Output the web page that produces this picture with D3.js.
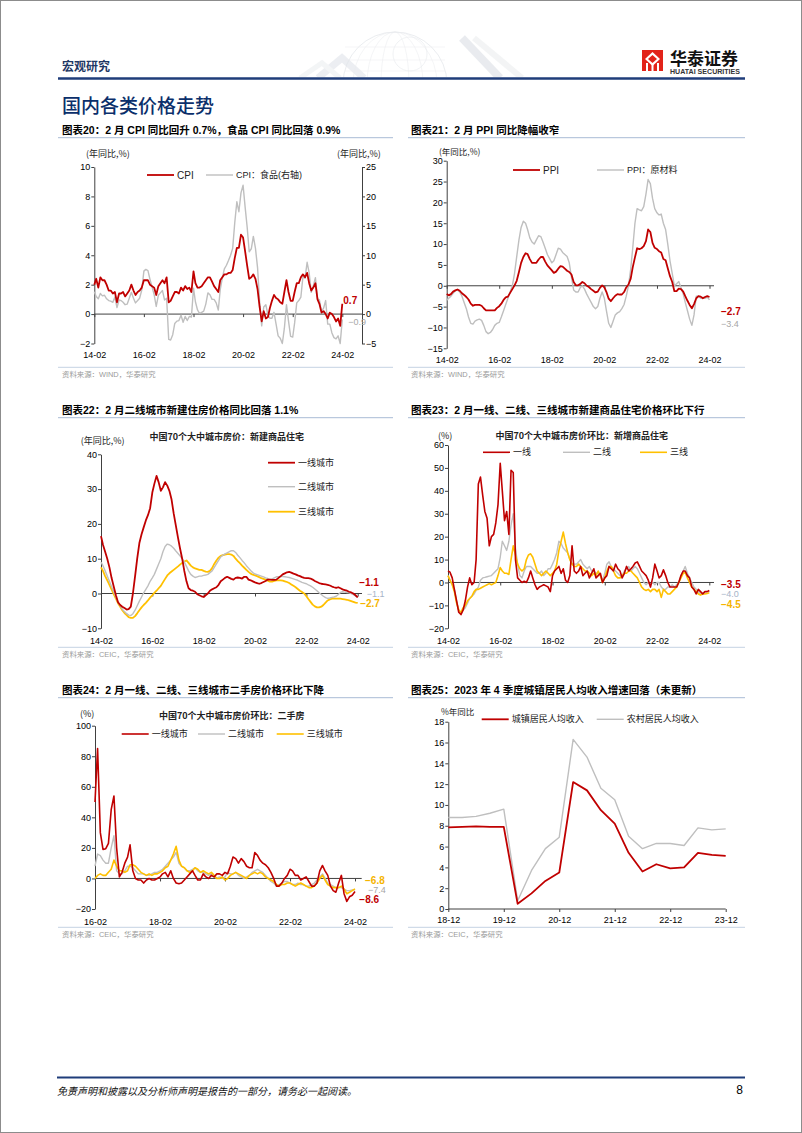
<!DOCTYPE html>
<html><head><meta charset="utf-8">
<script src="https://cdn.jsdelivr.net/npm/d3@7"></script>
<style>html,body{margin:0;padding:0;background:#fff;}svg{display:block;}</style>
</head><body>
<svg id="page" width="802" height="1133"></svg>
<script>
// ---------------- DATA ----------------
const monthTickLabels = ["14-02","16-02","18-02","20-02","22-02","24-02"];
const usedTickLabels = ["16-02","18-02","20-02","22-02","24-02"];
const incomeTickLabels = ["18-12","19-12","20-12","21-12","22-12","23-12"];

const cpiLeftTicks = [-2,0,2,4,6,8,10];
const cpiRightTicks = [-5,0,5,10,15,20,25];
const ppiTicks = [-15,-10,-5,0,5,10,15,20,25,30];
const newYoYTicks = [-10,0,10,20,30,40];
const newMoMTicks = [-20,-10,0,10,20,30,40,50,60];
const usedTicks = [-20,0,20,40,60,80,100];
const incomeTicks = [0,2,4,6,8,10,12,14,16,18];

// CPI YoY, 2014-02 .. 2024-02
const cpi = [
 2.0,2.4,1.8,2.5,2.3,2.3,2.0,1.6,1.6,1.4,1.5,
 0.8,1.4,1.4,1.5,1.2,1.4,1.6,2.0,1.6,1.3,1.5,1.6,
 1.8,2.3,2.3,2.3,2.0,1.9,1.8,1.3,1.9,2.1,2.3,2.1,
 2.5,0.8,0.9,1.2,1.5,1.5,1.4,1.8,1.6,1.9,1.7,1.8,
 1.5,2.9,2.1,1.8,1.8,1.9,2.1,2.3,2.5,2.5,2.2,1.9,
 1.7,1.5,2.3,2.5,2.7,2.7,2.8,2.8,3.0,3.8,4.5,4.5,
 5.4,5.2,4.3,3.3,2.4,2.5,2.7,2.4,1.7,0.5,-0.5,0.2,
 -0.3,-0.2,0.4,0.9,1.3,1.1,1.0,0.8,0.7,1.5,2.3,1.5,
 0.9,0.9,1.5,2.1,2.1,2.5,2.7,2.5,2.8,2.1,1.6,1.8,
 2.1,1.0,0.7,0.1,0.2,0.0,-0.3,0.1,0.0,-0.2,-0.5,-0.3,
 -0.8,0.7];
// CPI food YoY (right axis)
const cpiFood = [
 3.8,3.0,2.6,3.5,3.1,3.2,2.6,2.3,2.2,2.0,2.9,
 1.1,2.4,2.3,2.0,1.6,1.7,2.7,3.7,2.7,1.9,2.3,2.7,
 4.1,7.3,7.6,7.4,5.9,4.6,3.3,1.3,3.2,3.6,4.0,2.4,
 2.7,-4.3,-4.4,-3.5,-1.6,-1.2,-1.1,-0.2,-1.4,-0.4,-1.1,-0.4,
 -0.5,4.4,2.1,0.7,0.1,0.3,0.5,1.7,3.6,3.3,2.5,2.5,
 1.9,0.7,4.1,6.1,7.7,8.3,9.1,10.0,11.2,15.5,19.1,17.4,
 20.6,21.9,18.3,14.8,10.6,11.1,13.2,11.2,7.9,2.2,-2.0,1.2,
 1.6,-0.2,-0.7,-0.7,0.3,-1.7,-3.7,-4.1,-5.0,-2.4,1.6,-1.2,
 -3.8,-3.9,-1.5,1.9,2.3,2.9,6.3,6.1,8.8,7.0,3.7,4.8,
 6.2,2.6,2.4,0.4,1.0,2.3,-1.7,-1.7,-3.2,-4.0,-4.2,-3.7,
 -5.0,-0.9];
// PPI YoY
const ppi = [
 -2.0,-2.3,-2.0,-1.4,-1.1,-0.9,-1.2,-1.8,-2.2,-2.7,-3.3,
 -4.3,-4.8,-4.6,-4.6,-4.6,-4.8,-5.4,-5.9,-5.9,-5.9,-5.9,-5.9,
 -5.3,-4.9,-4.3,-3.4,-2.8,-2.6,-1.7,-0.8,0.1,1.2,3.3,5.5,
 6.9,7.8,7.6,6.4,5.5,5.5,5.5,6.3,6.9,6.9,5.8,4.9,
 4.3,3.7,3.1,3.4,4.1,4.7,4.6,4.1,3.6,3.3,2.7,0.9,
 0.1,0.1,0.4,0.9,0.6,0.0,-0.3,-0.8,-1.2,-1.6,-1.4,-0.5,
 0.1,-0.4,-1.5,-3.1,-3.7,-3.0,-2.4,-2.0,-2.1,-2.1,-1.5,-0.4,
 0.3,1.7,4.4,6.8,9.0,8.8,9.0,9.5,10.7,13.5,12.9,10.3,
 9.1,8.8,8.3,8.0,6.4,6.1,4.2,2.3,0.9,-1.3,-1.3,-0.7,
 -0.8,-1.4,-2.5,-3.6,-4.6,-5.4,-4.4,-3.0,-2.5,-2.6,-3.0,-2.7,
 -2.5,-2.7];
// PPI raw materials YoY
const ppiRaw = [
 -3.5,-3,-2.5,-1.8,-1.2,-1,-1.5,-2.5,-4,-5.5,-7.5,
 -9,-9.2,-8.5,-8.2,-8,-8.3,-9.5,-11,-11.5,-11.2,-10.5,-9.5,
 -9,-8.8,-7.5,-6,-4.5,-3,-1.5,0,3,7,11,14,
 15.5,15,13.5,11.5,10.5,10,11,12,11.8,10.5,9,7.5,
 6.5,5.5,6,7.5,9,8.8,8,7.5,7,5.5,2,-1,
 -1.5,-1.5,-0.5,0,-0.8,-2,-3,-4,-5,-5.5,-5,-3,
 -1.5,-3,-6,-9,-10,-8.5,-7,-6.5,-6.2,-5.5,-4.5,-2.5,
 0,4,9,15,18.5,18.2,18,19,22,25.5,24.5,21,
 18.5,17.5,17,17.2,15,13.5,10,6,3,0,0.5,1,
 -0.5,-2,-4,-6,-8,-9.5,-7,-2.5,-2.5,-3,-2.8,-3,
 -2.7,-3.4];
// 70-city new home price YoY, tier 1/2/3
const newYoY1 = [
 16.5,14,12,10,7.5,4.5,2,-0.5,-2.5,-3.3,-3.8,
 -4.2,-4.6,-4.5,-3.8,0,5,10,14.5,17,19,21,22.5,
 24.5,29,31.5,33.8,32,29.5,30.5,32,31,29.5,27,23,
 19.5,16,13,10,6.5,3.5,1.5,1,0.8,0.5,-0.2,-0.5,
 -0.8,-1,-0.5,0,0.8,1.2,1.5,1.8,2.5,3.5,4,4.5,
 4.8,4.5,4.2,4,4.5,4.6,4.5,4.3,4.8,4.8,4,3.8,
 3.5,3.2,3,2.8,3,3.3,3.6,4,4,3.9,3.9,4,
 4.5,5,5.5,5.8,6.1,6.2,6,5.7,5.5,5.2,5,4.7,
 4.5,4.4,4.4,4.3,4,3.6,3.3,3,2.8,2.7,2.6,2.5,
 2.3,2,1.8,1.6,1.8,1.5,1.2,1,0.8,0.5,0.3,0,
 -0.5,-1.1];
const newYoY2 = [
 9,8,6.5,5,3.5,2,0.5,-1,-2.5,-3.5,-4.5,
 -5.2,-5.8,-6.2,-6.3,-5.8,-4.8,-3.5,-2.2,-1,0.2,1.2,2.2,
 3.5,4.5,5.5,7,8.5,10,12,13.5,14.2,14,13.6,13,
 12.2,11.5,10.8,10,9,7.8,6.5,5.5,5,4.6,4.8,5,
 5,5.2,5.3,5.5,6,6.5,7.5,8.5,9.5,10.5,11,11.4,
 11.7,12,12.3,12.3,11.8,11,10.3,9.5,8.8,8,7.3,6.6,
 6,5.6,5.4,5.2,5,4.8,4.5,4.3,4,4.2,4.5,4.8,
 4.8,4.9,4.9,4.8,4.7,4.6,4.4,4.2,4,3.8,3.5,3.2,
 3,2.8,2.5,2.2,1.8,1.3,0.8,0.2,-0.3,-0.8,-1.2,-1.4,
 -1.3,-1.1,-1,-0.8,-0.3,0.3,0.5,0.4,0.3,0.2,0,-0.3,
 -0.7,-1.1];
const newYoY3 = [
 7.5,6.5,5,3.8,2.5,1.2,-0.2,-1.5,-2.8,-3.8,-4.8,
 -5.6,-6.2,-6.8,-7,-7,-6.5,-5.7,-4.8,-4,-3.3,-2.7,-2,
 -1.2,-0.5,0.2,0.8,1.5,2.2,3.2,4.2,5.2,5.8,6.3,6.8,
 7.3,7.8,8.3,8.8,9.2,9.5,8.8,8,7.5,7.2,7,6.8,
 6.8,6.5,6.3,6.2,6.5,7.3,8.5,9.5,10.3,10.8,11,11.2,
 11.3,11.3,11.2,10.8,10,9.3,8.7,8,7.4,6.8,6.2,5.7,
 5.4,5.2,5,4.7,4.4,4.2,4,3.7,3.4,3.4,3.6,3.8,
 3.8,3.8,3.7,3.5,3.3,3,2.6,2.2,1.8,1.3,0.8,0.4,
 0,-0.8,-1.6,-2.4,-3.2,-3.7,-4,-4,-3.8,-3.3,-2.6,-2,
 -1.7,-1.5,-1.5,-1.5,-1.5,-1.5,-1.6,-1.7,-1.8,-2,-2.2,-2.4,
 -2.6,-2.7];
// 70-city new home price MoM (annualised), tier 1/2/3
const newMoM1 = [
 5,4.5,2,-3,-8,-13,-14,-12,-8,-2,2,
 -1,0,10,43,46,38,31,28,16,20,21,26,
 34,52,40,27,31,21,49,48,10,2,1,0,
 0.5,0,2,5,2,-1,-3,-2,-1.5,-1,-1.5,-2,
 -4,3,5,6,7,4,6,1,0,3,16,5,
 4,5,7,3,4,5,2,4,6,2,3,4,
 0,2,3,7,6,5,8,6,5,2,4,7,
 5,6,7,8.5,9,7,5,4,3,1,-2,2,
 8,5,2,3,5.5,3,0,-2,-2,-2,-2,0,
 3,5,5,3,2,-2,-3,-5,-3,-4,-5,-4,
 -4,-3.5];
const newMoM2 = [
 3,1,-1,-3,-8,-12,-13.5,-12,-11,-9,-7,
 -6,-5,-3.5,-2,1,2,2.2,2.5,2.8,3,4,5,
 6,11,18,16,14,18,25,30,15,8,3,2,
 5,7,7,7,6,5,4,4,5,3,4,6,
 6,8,10,13,18,17,15,14,13,10,8,8,
 8,9,10,8,7,6,7,5,5,4,4,3,
 1,4,8,9,7,6,5,4,3,3,5,6,
 7,5,6,7,6,4,2,0,-1,0,-1,0,
 -1,0,0,-2,-3,-3,-2,-2,-1,-2,-1,0,
 3,5,7,4,2,0,-2,-3,-4,-5,-5,-4,
 -4,-4];
const newMoM3 = [
 3,1,-1,-4,-9,-12,-13,-11,-10,-8,-7,
 -6,-4,-3,-3,-2.5,-2,-1.5,-1,-0.5,-1,-0.5,0,
 3,6.5,5,4,4,3.5,10,16,12,8,6,5,
 6,10,12,12.5,11,8,5,4,3,4,5,4,
 3,4,5,8,14,18,22,17,13,10,8,7,
 7,8,7,6,5,5,4,3,4,3,5,3,
 0,2,5,7,7,5,3,2,2,3,4,4,
 5,5,4,3,2,0,-2,-3,-3.5,-3,-4,-3,
 -3,-4,-3,-6.5,-3,-4,-5,-5,-4,-3,-2,0,
 2,4,4.5,2,0,-2,-3,-4,-5,-5.5,-5,-5,
 -4.8,-4.5];
// 70-city second-hand price MoM (annualised), 2016-02 .. 2024-02
const usedMoM1 = [
 50,85,30,19,19.5,23,45,54,20,1,4,
 10,14,22,5,0,-1,-1,-3,-1,0,-1,-1,
 0,1,3,4,1,5,0,-3,-3.5,-3,-1,1,
 3,5,2,-1,-1,3,1,0,2,1,3,3,
 2,4,3,8,14,13,10,13,11,8,7,7,
 17,15,12,10,9,7,4,0,-5,-5,-3,0,
 2,6,5,2,2,-1,0,1,-2,-5,-5,-3,
 5,8.5,5,2,-5,-8,-9,-3,2,-10,-15,-12,
 -11,-8.6];
const usedMoM2 = [
 8,16,15,12,10,10,20,28,5,3,3,
 5,8,8,7,5,3,3,3,2,2,3,4,
 4,5,6,8,10,12,14,17,10,8,7,5,
 5,6,7,5,4,4,3,2,3,1,0,1,
 0,1,4,3,3,4,2,1,0,1,2,4,
 5,6,5,4,2,0,-2,-3,-5,-4,-3,-2,
 -2,-3,-4,-4,-3,-4,-4,-5,-5,-4,-3,-1,
 1,3,0,-3,-4,-5,-6,-6,-6,-7,-8,-8,
 -7.5,-7.4];
const usedMoM3 = [
 0,2,3,2,2,4,6,12,8,5,5,
 4,5,9,9,8,6,4,3,2,3,2,3,
 3,4,5,7,8,12,16,21,12,8,7,5,
 4,5,7,6,4,5,4,3,4,2,0,0,
 1,-1,0,2,3,4,3,2,1,0,2,3,
 4,3,4,3,1,0,-1,-2,-4,-5,-4,-4,
 -3,-3,-4,-5,-4,-3,-4,-5,-6,-6,-5,-3,
 0,2,-1,-4,-5,-6,-6,-6,-5,-7,-10,-9,
 -8,-6.8];
// per-capita disposable income growth, quarterly
const incomeQuarters = ["18-12","19-03","19-06","19-09","19-12","20-03","20-06","20-09","20-12","21-03","21-06","21-09","21-12","22-03","22-06","22-09","22-12","23-03","23-06","23-09","23-12"];
const urbanIncome = [7.85,7.9,7.95,7.9,7.9,0.5,1.5,2.7,3.5,12.2,11.4,9.5,8.2,5.4,3.6,4.3,3.9,4.0,5.4,5.2,5.1];
const ruralIncome = [8.8,8.8,8.9,9.2,9.6,0.8,3.7,5.8,6.9,16.3,14.6,11.6,10.5,7.0,5.8,6.3,6.3,6.1,7.8,7.6,7.7];

// ---------------- DRAWING ----------------
const svg = d3.select("#page");
const FONT = "'Liberation Sans', Arial, 'Noto Sans CJK SC', sans-serif";
const CJK = "'Noto Sans CJK SC', sans-serif";
const RED = "#c00000", GRAY = "#bfbfbf", YEL = "#ffc000", AXIS = "#404040", NAVY = "#1f3d7a";
const parseYM = d3.timeParse("%y-%m");
const fmtYM = d3.timeFormat("%y-%m");
const monthSeries = (start, vals) => { const s = parseYM(start); return vals.map((v, i) => ({d: d3.timeMonth.offset(s, i), v})); };

function text(x, y, str, o = {}) {
  return svg.append("text").attr("x", x).attr("y", y).attr("dominant-baseline", "central")
    .attr("font-family", o.family || FONT).attr("font-size", o.size || 9)
    .attr("font-weight", o.weight || "normal").attr("fill", o.fill || "#000")
    .attr("text-anchor", o.anchor || "start").attr("font-style", o.style || "normal").text(str);
}

// page frame
svg.append("rect").attr("x", 0.5).attr("y", 0.5).attr("width", 801).attr("height", 1132).attr("fill", "none").attr("stroke", "#8c8c8c");

// header decoration (faint globe + chevrons)
const deco = svg.append("g").attr("opacity", 0.75);
deco.append("clipPath").attr("id", "clipTop").append("rect").attr("x", 280).attr("y", 20).attr("width", 260).attr("height", 57);
const dg = deco.append("g").attr("clip-path", "url(#clipTop)");
[[318,78,342,58,364,78,"#e6e9ee",7],[300,78,322,63,340,78,"#f0f2f4",5]].forEach(p =>
  dg.append("polyline").attr("points", `${p[0]},${p[1]} ${p[2]},${p[3]} ${p[4]},${p[5]}`).attr("fill","none").attr("stroke",p[6]).attr("stroke-width",p[7]));
dg.append("circle").attr("cx", 395).attr("cy", 84).attr("r", 52).attr("fill", "none").attr("stroke", "#d8dce2").attr("stroke-width", 0.7);
[14, 28, 42].forEach(rx => dg.append("ellipse").attr("cx", 395).attr("cy", 84).attr("rx", rx).attr("ry", 52).attr("fill", "none").attr("stroke", "#e2e5e9").attr("stroke-width", 0.5));
[47, 60, 71].forEach(yy => dg.append("line").attr("x1", 345).attr("x2", 445).attr("y1", yy).attr("y2", yy).attr("stroke", "#e4e7eb").attr("stroke-width", 0.5));
dg.append("circle").attr("cx", 410).attr("cy", 54).attr("r", 17).attr("fill", "none").attr("stroke", "#dfe2e7").attr("stroke-width", 0.6);
[[398,78,428,52,448,70,"#c9dbf0",7],[424,78,458,40,488,74,"#9dbbe0",7],[462,38,500,78,"#dde1e6",8],[474,38,522,78,"#eceef0",6]].forEach(p => {
  const pts = p.length === 9 ? `${p[0]},${p[1]} ${p[2]},${p[3]} ${p[4]},${p[5]}` : `${p[0]},${p[1]} ${p[2]},${p[3]}`;
  const col = p.length === 9 ? p[6] : p[4], w = p.length === 9 ? p[7] : p[5];
  dg.append("polyline").attr("points", pts).attr("fill", "none").attr("stroke", col).attr("stroke-width", w).attr("opacity", 0.85);
});

// header texts
text(62, 65, "宏观研究", {family: CJK, size: 12, weight: 700, fill: "#1f3864"});
// logo
svg.append("rect").attr("x", 642).attr("y", 50).attr("width", 21).attr("height", 21).attr("fill", "#e2231a");
svg.append("path").attr("d", "M652.5,52 L660,59 L652.5,66 L645,59 Z").attr("fill", "#fff");
svg.append("path").attr("d", "M652.5,55 L657,59 L652.5,63 L648,59 Z").attr("fill", "#e2231a");
[646, 651.5, 657].forEach(xx => svg.append("rect").attr("x", xx).attr("y", 63).attr("width", 2).attr("height", 8).attr("fill", "#fff"));
text(670, 57, "华泰证券", {family: CJK, size: 17, weight: 700, fill: "#111"});
svg.append("text").attr("x", 670).attr("y", 71).attr("dominant-baseline", "central").attr("font-family", FONT)
  .attr("font-size", 6.6).attr("font-weight", 700).attr("fill", "#333").attr("textLength", 70).attr("lengthAdjust", "spacingAndGlyphs").text("HUATAI SECURITIES");
svg.append("line").attr("x1", 58).attr("x2", 745).attr("y1", 78.5).attr("y2", 78.5).attr("stroke", NAVY).attr("stroke-width", 2.5);
text(62, 104, "国内各类价格走势", {family: CJK, size: 19, weight: 500, fill: "#0b2f6b"});

// footer
svg.append("line").attr("x1", 57).attr("x2", 745).attr("y1", 1077.5).attr("y2", 1077.5).attr("stroke", NAVY).attr("stroke-width", 2);
text(57, 1090, "免责声明和披露以及分析师声明是报告的一部分，请务必一起阅读。", {family: CJK, size: 10, style: "italic", fill: "#111"});
text(743, 1090, "8", {size: 12, anchor: "end"});

// titles / source lines
function panelFrame(left, top, title, source) {
  const x0 = left ? 58 : 408, x1 = left ? 393 : 745, tx = left ? 62 : 411;
  text(tx, top, title, {size: 10.5, weight: 700});
  svg.append("line").attr("x1", x0).attr("x2", x1).attr("y1", top + 7.7).attr("y2", top + 7.7).attr("stroke", "#a9bcd6").attr("stroke-width", 1);
  svg.append("line").attr("x1", x0).attr("x2", x1).attr("y1", top + 237.3).attr("y2", top + 237.3).attr("stroke", "#c5d2e3").attr("stroke-width", 1);
  text(tx, top + 244.5, source, {size: 7.4, fill: "#9a9a9a", family: FONT});
}
panelFrame(true, 130, "图表20：2 月 CPI 同比回升 0.7%，食品 CPI 同比回落 0.9%", "资料来源：WIND，华泰研究");
panelFrame(false, 130, "图表21：2 月 PPI 同比降幅收窄", "资料来源：WIND，华泰研究");
panelFrame(true, 410, "图表22：2 月二线城市新建住房价格同比回落 1.1%", "资料来源：CEIC，华泰研究");
panelFrame(false, 410, "图表23：2 月一线、二线、三线城市新建商品住宅价格环比下行", "资料来源：CEIC，华泰研究");
panelFrame(true, 690, "图表24：2 月一线、二线、三线城市二手房价格环比下降", "资料来源：CEIC，华泰研究");
panelFrame(false, 690, "图表25：2023 年 4 季度城镇居民人均收入增速回落（未更新）", "资料来源：CEIC，华泰研究");

function styleAxis(s) {
  s.attr("font-size", 9).attr("font-family", FONT);
  s.selectAll("text").attr("fill", "#000");
  s.selectAll("line,path").attr("stroke", AXIS);
}

function drawChart(o) {
  const g = svg.append("g");
  const x = o.x, y = o.y, by = y(o.base), xs = x.range()[0];
  g.append("line").attr("x1", xs).attr("x2", o.xEnd).attr("y1", by).attr("y2", by).attr("stroke", AXIS).attr("stroke-width", 1);
  g.append("g").attr("transform", `translate(0,${by})`)
    .call(d3.axisBottom(x).tickValues(o.xTicks).tickFormat("").tickSizeInner(3).tickSizeOuter(0))
    .call(s => { s.select(".domain").remove(); styleAxis(s); });
  g.append("g").attr("transform", `translate(0,${o.labelY - 3.3})`)
    .call(d3.axisBottom(x).tickValues(o.xTicks).tickFormat(o.xFormat).tickSize(0).tickPadding(0))
    .call(s => { s.select(".domain").remove(); styleAxis(s); });
  g.append("g").attr("transform", `translate(${xs},0)`)
    .call(d3.axisLeft(y).tickValues(o.yTicks).tickSizeInner(3).tickSizeOuter(0).tickPadding(1))
    .call(styleAxis);
  if (o.yR) {
    g.append("g").attr("transform", `translate(${o.xEnd},0)`)
      .call(d3.axisRight(o.yR).tickValues(o.yRTicks).tickSizeInner(3).tickSizeOuter(0).tickPadding(1))
      .call(styleAxis);
  }
  o.series.forEach(s => {
    const ys = s.right ? o.yR : y;
    g.append("path").datum(s.data).attr("fill", "none").attr("stroke", s.color).attr("stroke-width", s.width)
      .attr("stroke-linejoin", "round")
      .attr("d", d3.line().x(d => x(d.d)).y(d => ys(d.v)));
  });
  (o.endLabels || []).forEach(l => {
    const s = o.series[l.s], last = s.data[s.data.length - 1];
    const ys = s.right ? o.yR : y;
    text(x(last.d) + l.dx, ys(last.v) + l.dy, l.txt != null ? l.txt : d3.format(".1f")(last.v),
      {size: l.bold ? 10 : 9, weight: l.bold ? 700 : "normal", fill: l.fill || s.color});
  });
  (o.legend || []).forEach(l => {
    const s = o.series[l.s];
    svg.append("line").attr("x1", l.x).attr("x2", l.x + 27).attr("y1", l.y).attr("y2", l.y).attr("stroke", s.color).attr("stroke-width", s.width);
    text(l.x + 30, l.y, l.label, {size: l.size || 9, family: l.family || FONT, fill: "#222"});
  });
  (o.notes || []).forEach(n => text(n.x, n.y, n.t, {size: n.size || 9, weight: n.weight, anchor: n.anchor, family: CJK, fill: "#222"}));
}

// Chart 20: CPI
{
  const x = d3.scaleTime().domain([parseYM("14-02"), parseYM("24-02")]).range([94.3, 342.3]);
  const y = d3.scaleLinear().domain([-2, 10]).range([343.5, 167]);
  const yR = d3.scaleLinear().domain([-5, 25]).range([343.5, 167]);
  drawChart({x, y, yR, yRTicks: cpiRightTicks, base: 0, xEnd: 362, labelY: 355, yTicks: cpiLeftTicks,
    xTicks: monthTickLabels.map(parseYM), xFormat: fmtYM,
    series: [{data: monthSeries("14-02", cpiFood), color: GRAY, width: 1.4, right: true},
             {data: monthSeries("14-02", cpi), color: RED, width: 1.8}],
    endLabels: [{s: 1, dx: 1, dy: -3, bold: true}, {s: 0, dx: 6, dy: 3, fill: "#a6a6a6"}],
    legend: [{s: 1, x: 147, y: 175, label: "CPI", size: 10}, {s: 0, x: 206, y: 175, label: "CPI：食品(右轴)"}],
    notes: [{x: 86, y: 153, t: "(年同比,%)"}, {x: 337, y: 153, t: "(年同比,%)"}]});
}
// Chart 21: PPI
{
  const x = d3.scaleTime().domain([parseYM("14-02"), parseYM("24-02")]).range([446.7, 709.5]);
  const y = d3.scaleLinear().domain([-15, 30]).range([348.3, 160.7]);
  drawChart({x, y, base: 0, xEnd: 714, labelY: 360, yTicks: ppiTicks,
    xTicks: monthTickLabels.map(parseYM), xFormat: fmtYM,
    series: [{data: monthSeries("14-02", ppiRaw), color: GRAY, width: 1.4},
             {data: monthSeries("14-02", ppi), color: RED, width: 1.8}],
    endLabels: [{s: 1, dx: 11.5, dy: 14.4, bold: true}, {s: 0, dx: 11.5, dy: 24, fill: "#a6a6a6"}],
    legend: [{s: 1, x: 513, y: 170, label: "PPI", size: 10}, {s: 0, x: 597, y: 170, label: "PPI：原材料"}],
    notes: [{x: 439, y: 150.5, t: "(年同比,%)", size: 8.5}]});
}
// Chart 22: new home YoY
{
  const x = d3.scaleTime().domain([parseYM("14-02"), parseYM("24-02")]).range([101, 357.7]);
  const y = d3.scaleLinear().domain([-10, 40]).range([628.3, 454.3]);
  drawChart({x, y, base: 0, xEnd: 362, labelY: 641, yTicks: newYoYTicks,
    xTicks: monthTickLabels.map(parseYM), xFormat: fmtYM,
    series: [{data: monthSeries("14-02", newYoY3), color: YEL, width: 1.8},
             {data: monthSeries("14-02", newYoY2), color: GRAY, width: 1.4},
             {data: monthSeries("14-02", newYoY1), color: RED, width: 1.8}],
    endLabels: [{s: 2, dx: 1.5, dy: -14.5, bold: true}, {s: 1, dx: 9, dy: -3.5, fill: "#a6b4c8"}, {s: 0, dx: 2.5, dy: 1, bold: true, fill: "#f5b400"}],
    legend: [{s: 2, x: 268, y: 462.7, label: "一线城市"}, {s: 1, x: 268, y: 486.7, label: "二线城市"}, {s: 0, x: 268, y: 511.7, label: "三线城市"}],
    notes: [{x: 80.7, y: 440.7, t: "(年同比,%)"}, {x: 226.7, y: 436.7, t: "中国70个大中城市房价：新建商品住宅", weight: 700, anchor: "middle"}]});
}
// Chart 23: new home MoM
{
  const x = d3.scaleTime().domain([parseYM("14-02"), parseYM("24-02")]).range([448, 709.3]);
  const y = d3.scaleLinear().domain([-20, 60]).range([628.3, 445]);
  drawChart({x, y, base: 0, xEnd: 714, labelY: 641, yTicks: newMoMTicks,
    xTicks: monthTickLabels.map(parseYM), xFormat: fmtYM,
    series: [{data: monthSeries("14-02", newMoM2), color: GRAY, width: 1.4},
             {data: monthSeries("14-02", newMoM3), color: YEL, width: 1.6},
             {data: monthSeries("14-02", newMoM1), color: RED, width: 1.6}],
    endLabels: [{s: 2, dx: 11.7, dy: -5.7, bold: true}, {s: 0, dx: 11.7, dy: 2.4, fill: "#a6b4c8"}, {s: 1, dx: 11.7, dy: 12, fill: "#f5b400", bold: true}],
    legend: [{s: 2, x: 483, y: 452.3, label: "一线"}, {s: 0, x: 563, y: 452.3, label: "二线"}, {s: 1, x: 640, y: 452.3, label: "三线"}],
    notes: [{x: 438, y: 435.7, t: "(%)"}, {x: 581.7, y: 435.7, t: "中国70个大中城市房价环比：新增商品住宅", weight: 700, anchor: "middle"}]});
}
// Chart 24: second-hand MoM
{
  const x = d3.scaleTime().domain([parseYM("16-02"), parseYM("24-02")]).range([95, 355]);
  const y = d3.scaleLinear().domain([-20, 100]).range([909, 725.7]);
  drawChart({x, y, base: 0, xEnd: 361.7, labelY: 921.7, yTicks: usedTicks,
    xTicks: usedTickLabels.map(parseYM), xFormat: fmtYM,
    series: [{data: monthSeries("16-02", usedMoM2), color: GRAY, width: 1.4},
             {data: monthSeries("16-02", usedMoM3), color: YEL, width: 1.6},
             {data: monthSeries("16-02", usedMoM1), color: RED, width: 1.6}],
    endLabels: [{s: 1, dx: 10, dy: -8.2, bold: true, fill: "#f5b400"}, {s: 0, dx: 13, dy: 0, fill: "#a6a6a6"}, {s: 2, dx: 4.3, dy: 8.4, bold: true}],
    legend: [{s: 2, x: 121.7, y: 734, label: "一线城市"}, {s: 0, x: 198, y: 734, label: "二线城市"}, {s: 1, x: 276.7, y: 734, label: "三线城市"}],
    notes: [{x: 80, y: 713, t: "(%)"}, {x: 231.7, y: 715.7, t: "中国70个大中城市房价环比：二手房", weight: 700, anchor: "middle"}]});
}
// Chart 25: income
{
  const x = d3.scalePoint().domain(incomeQuarters).range([448.3, 725.7]);
  const y = d3.scaleLinear().domain([0, 18]).range([909, 721.7]);
  drawChart({x, y, base: 0, xEnd: 725.7, labelY: 920, yTicks: incomeTicks,
    xTicks: incomeTickLabels, xFormat: d => d,
    series: [{data: incomeQuarters.map((q, i) => ({d: q, v: ruralIncome[i]})), color: GRAY, width: 1.4},
             {data: incomeQuarters.map((q, i) => ({d: q, v: urbanIncome[i]})), color: RED, width: 1.8}],
    legend: [{s: 1, x: 481.7, y: 719.3, label: "城镇居民人均收入"}, {s: 0, x: 596.7, y: 719.3, label: "农村居民人均收入"}],
    notes: [{x: 441, y: 710.5, t: "%年同比", size: 8.5}]});
}
</script>
</body></html>
